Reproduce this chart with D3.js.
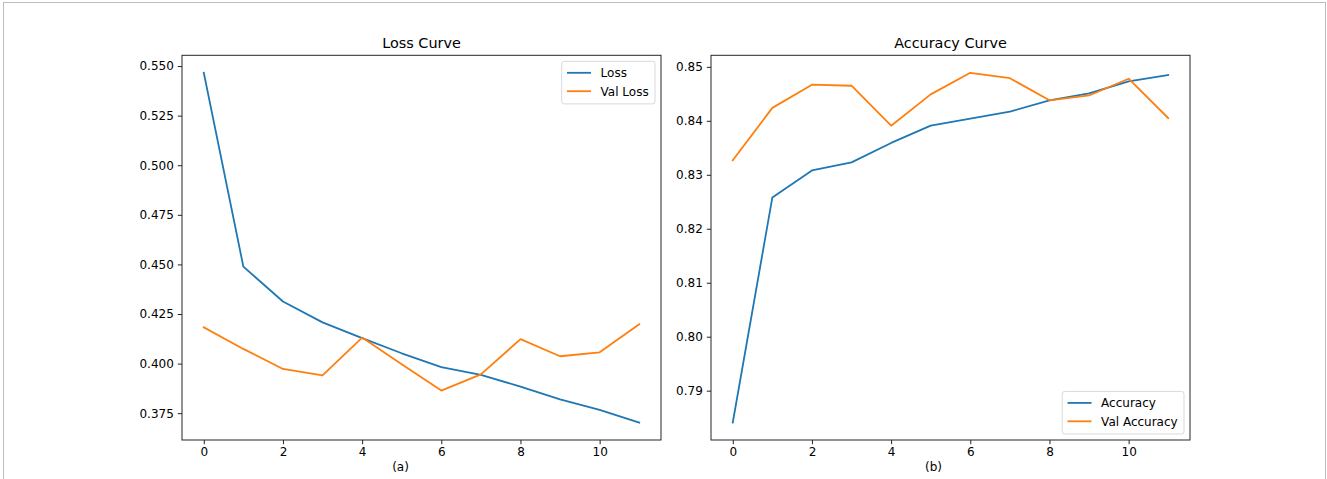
<!DOCTYPE html>
<html>
<head>
<meta charset="utf-8">
<script src="https://cdn.jsdelivr.net/npm/d3@7/dist/d3.min.js"></script>
<style>
  html, body { margin: 0; padding: 0; background: #fff; }
  svg { display: block; }
  text { font-family: "DejaVu Sans", sans-serif; fill: #000; }
</style>
</head>
<body>
<svg id="chart" width="1327" height="479"></svg>
<script>
// ---- data ----
const epochs = [0, 1, 2, 3, 4, 5, 6, 7, 8, 9, 10, 11];
const loss = [0.5466, 0.4489, 0.4313, 0.4208, 0.4128, 0.4052, 0.3982, 0.3943, 0.3884, 0.3820, 0.3767, 0.3703];
const valLoss = [0.4183, 0.4074, 0.3973, 0.3941, 0.4131, 0.3997, 0.3864, 0.3946, 0.4123, 0.4037, 0.4057, 0.4198];
const accuracy = [0.7841, 0.8258, 0.8308, 0.8323, 0.8359, 0.8391, 0.8404, 0.8417, 0.8438, 0.8451, 0.8473, 0.8485];
const valAccuracy = [0.8327, 0.8424, 0.8467, 0.8465, 0.8391, 0.8449, 0.8489, 0.8479, 0.8438, 0.8447, 0.8478, 0.8405];
const xTicks = [0, 2, 4, 6, 8, 10];
const lossTicks = [0.375, 0.400, 0.425, 0.450, 0.475, 0.500, 0.525, 0.550];
const accTicks = [0.79, 0.80, 0.81, 0.82, 0.83, 0.84, 0.85];
const titles = ["Loss Curve", "Accuracy Curve"];
const subLabels = ["(a)", "(b)"];
const lossLabels = ["Loss", "Val Loss"];
const accLabels = ["Accuracy", "Val Accuracy"];
const colors = ["#1f77b4", "#ff7f0e"];

const svg = d3.select("#chart");
svg.append("rect").attr("width", 1327).attr("height", 479).attr("fill", "#fff");
// outer frame
svg.append("rect").attr("x", 3.5).attr("y", 2.5).attr("width", 1322).attr("height", 520)
  .attr("fill", "none").attr("stroke", "#bdbdbd").attr("stroke-width", 1);

const FS = 12;

function panel(cfg) {
  const { left, right, top, bottom } = cfg;
  const g = svg.append("g");
  const x = d3.scaleLinear().domain([-0.55, 11.55]).range([left, right]);
  const all = cfg.series.flat();
  const mn = d3.min(all), mx = d3.max(all), pad = (mx - mn) * 0.05;
  const y = d3.scaleLinear().domain([mn - pad, mx + pad]).range([bottom, top]);

  // x axis
  const xAxis = d3.axisBottom(x).tickValues(xTicks).tickSize(4.2).tickPadding(3.5).tickFormat(d3.format("d"));
  const gx = g.append("g").attr("transform", `translate(0,${bottom})`).call(xAxis);
  gx.select(".domain").remove();
  gx.selectAll("line").attr("stroke", "#222").attr("stroke-width", 1);
  gx.selectAll("text").attr("font-size", FS).attr("font-family", "DejaVu Sans").attr("fill", "#000");

  const yAxis = d3.axisLeft(y).tickValues(cfg.yTicks).tickSize(4.2).tickPadding(4).tickFormat(d3.format(cfg.fmt));
  const gy = g.append("g").attr("transform", `translate(${left},0)`).call(yAxis);
  gy.select(".domain").remove();
  gy.selectAll("line").attr("stroke", "#222").attr("stroke-width", 1);
  gy.selectAll("text").attr("font-size", FS).attr("font-family", "DejaVu Sans").attr("fill", "#000");

  // lines
  const line = d3.line().x((d, i) => x(epochs[i])).y(d => y(d));
  cfg.series.forEach((s, k) => {
    g.append("path").datum(s).attr("d", line).attr("fill", "none")
      .attr("stroke", colors[k]).attr("stroke-width", 1.8)
      .attr("stroke-linejoin", "round").attr("stroke-linecap", "square");
  });

  // spines
  g.append("rect").attr("x", left).attr("y", top).attr("width", right - left).attr("height", bottom - top)
    .attr("fill", "none").attr("stroke", "#262626").attr("stroke-width", 1);

  // title
  g.append("text").attr("x", (left + right) / 2).attr("y", top - 7).attr("text-anchor", "middle")
    .attr("font-size", 14.4).text(cfg.title);

  // sub label
  g.append("text").attr("x", (left + right) / 2 + cfg.subOffset).attr("y", 471).attr("text-anchor", "middle")
    .attr("font-size", FS).text(cfg.sub);

  // legend
  const lg = g.append("g");
  const texts = cfg.labels.map(l => lg.append("text").attr("font-size", FS).text(l));
  const tw = d3.max(texts, t => t.node().getComputedTextLength());
  const bp = 4.8, hl = 24, htp = 9.6, rowH = 18.4;
  const bw = bp + hl + htp + tw + bp + 2;
  const bh = bp * 2 + rowH * 2 - 4.8 + 1;
  const bx = right - 6 - bw;
  const by = cfg.legendPos === "upper" ? top + 6 : bottom - 6 - bh;
  lg.insert("rect", ":first-child").attr("x", bx).attr("y", by).attr("width", bw).attr("height", bh)
    .attr("rx", 2.5).attr("fill", "#fff").attr("fill-opacity", 0.8)
    .attr("stroke", "#d9d9d9").attr("stroke-width", 1);
  texts.forEach((t, k) => {
    const cy = by + bp + 6.7 + k * rowH;
    t.attr("x", bx + bp + hl + htp + 0.5).attr("y", cy).attr("dy", "0.36em");
    lg.append("line").attr("x1", bx + bp + 0.5).attr("x2", bx + bp + hl + 0.5)
      .attr("y1", cy).attr("y2", cy).attr("stroke", colors[k]).attr("stroke-width", 1.8);
  });
}

panel({ left: 182, right: 661, top: 55.3, bottom: 440, series: [loss, valLoss],
  yTicks: lossTicks, fmt: ".3f", title: titles[0], sub: subLabels[0], subOffset: -21,
  labels: lossLabels, legendPos: "upper" });
panel({ left: 711, right: 1190, top: 55.3, bottom: 440, series: [accuracy, valAccuracy],
  yTicks: accTicks, fmt: ".2f", title: titles[1], sub: subLabels[1], subOffset: -17,
  labels: accLabels, legendPos: "lower" });
</script>
</body>
</html>
